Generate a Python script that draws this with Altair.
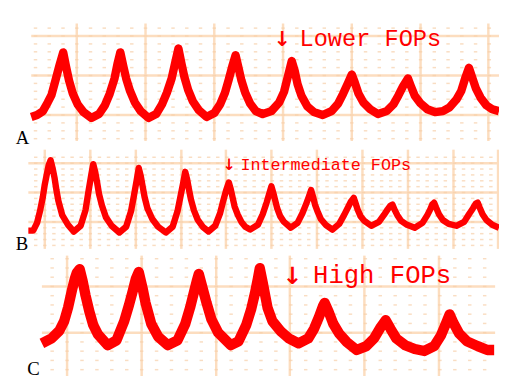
import altair as alt
import pandas as pd
import numpy as np

# ---------------- trace data read from the three scope screens ----------------
# x = sample index from the left edge of each screen, y = level above the lowest major grid line
a_t = [0, 6, 12, 17, 21, 25, 29, 33, 36, 39, 43, 48, 54, 62, 70, 76, 81, 86, 89, 92,
       95, 98, 102, 107, 113, 121, 129, 135, 140, 145, 149, 152, 155, 158, 162, 167, 173, 181,
       189, 195, 200, 204, 208, 211, 214, 217, 221, 226, 232, 239, 248, 256, 261, 265, 269,
       272, 275, 279, 285, 292, 301, 310, 317, 322, 327, 331, 334, 338, 343, 350, 358, 367,
       374, 379, 384, 389, 392, 396, 402, 409, 417, 425, 432, 439, 444, 448, 452, 455, 459,
       464, 470, 476, 483]
a_v = [-2, 0, 4, 13, 21, 36, 51, 65, 50, 36, 22, 11, 3, -3, 1, 10, 22, 38, 53, 65,
       51, 38, 25, 13, 4, -3, 1, 11, 23, 38, 56, 69, 54, 40, 26, 14, 5, -2,
       2, 11, 23, 37, 52, 62, 49, 36, 23, 12, 4, 1, 4, 13, 24, 40, 56,
       46, 32, 20, 9, 3, 0, 4, 12, 22, 33, 42, 34, 22, 13, 6, 1, 4,
       11, 20, 30, 38, 30, 20, 12, 6, 3, 4, 8, 16, 25, 38, 49, 40, 28,
       18, 10, 6, 4]

b_t = [0, 5, 9, 12, 15, 17, 19, 21, 23, 25, 27, 29, 31, 35, 41, 47, 54, 59, 62, 65, 67,
       69, 71, 73, 76, 80, 86, 94, 101, 106, 109, 112, 114, 116, 118, 120, 123, 128, 134, 142,
       149, 154, 157, 160, 162, 164, 166, 168, 171, 175, 180, 186, 193, 198, 201, 204, 207,
       209, 211, 213, 216, 220, 224, 229, 237, 242, 246, 249, 251, 253, 255, 257, 260, 264,
       271, 278, 283, 287, 290, 292, 294, 296, 299, 302, 307, 314, 321, 326, 330, 333, 336,
       338, 340, 343, 347, 354, 362, 367, 371, 374, 376, 378, 381, 385, 391, 399, 407, 412,
       415, 417, 419, 421, 424, 428, 434, 442, 450, 455, 459, 462, 464, 466, 469, 473, 479, 486]
b_v = [-9, -9, -1, 11, 26, 39, 49, 59, 64, 56, 46, 33, 22, 7, -3, -10, -4, 12, 31, 49, 60,
       52, 41, 29, 17, 5, -4, -11, -5, 11, 27, 44, 56, 48, 37, 26, 14, 3, -5, -11,
       -5, 11, 26, 41, 52, 44, 33, 23, 12, 2, -5, -10, -4, 9, 21, 32, 41,
       34, 25, 16, 8, 0, -5, -8, -3, 8, 20, 30, 37, 30, 22, 14, 6, 0,
       -6, -1, 9, 19, 27, 33, 26, 18, 10, 3, -3, -8, -2, 7, 15, 21, 25,
       19, 13, 6, 1, -4, 0, 7, 13, 17, 18, 13, 7, 1, -3, -6, -1, 7,
       13, 18, 20, 15, 8, 2, -2, -4, 0, 8, 14, 19, 20, 15, 8, 2, -3, -6]

c_t = [0, 10, 18, 23, 27, 31, 34, 36, 39, 42, 45, 49, 53, 58, 68, 77, 85, 90, 94, 97, 100,
       104, 107, 113, 120, 130, 140, 148, 153, 157, 160, 162, 166, 170, 175, 182, 195, 203,
       211, 216, 220, 223, 225, 228, 233, 238, 247, 255, 265, 275, 281, 286, 290, 292, 296,
       301, 307, 315, 325, 335, 343, 350, 355, 360, 366, 375, 385, 395, 405, 412, 417, 421,
       425, 431, 439, 450, 460, 467]
c_v = [-11, -6, 2, 12, 26, 44, 56, 62, 66, 54, 39, 22, 8, -2, -13, -8, 12, 29, 44, 56, 63,
       46, 31, 9, -4, -13, -8, 9, 26, 42, 54, 61, 46, 31, 14, 0, -13, -9,
       8, 24, 41, 56, 67, 52, 26, 12, 1, -6, -11, -6, 4, 16, 27, 31, 22,
       9, -1, -10, -18, -14, -6, 6, 13, 4, -6, -13, -17, -19, -14, -3, 9, 19,
       10, -1, -9, -14, -18, -18]

# major grid line positions of each screen
a_xmaj = [47, 118, 189, 260, 331, 402, 472]
a_ymaj = [0, 41, 82]
b_xmaj = [17, 64, 111, 158, 204, 251, 298, 345, 392, 439, 485]
b_ymaj = [0, 30.5, 61]
c_xmaj = [26, 103, 180, 256, 333, 410]
c_ymaj = [0, 48]

# ---------------- layout / style ----------------
W, H = 499, 371          # whole drawing
RW, RH = 507, 379        # reference frame units
GRID = "#FCDDBF"
DOT = "#F7CFA8"
RED = "#FF0000"


def lattice(xmaj, ymaj, xlim, ylim):
    dx = (xmaj[1] - xmaj[0]) / 5.0
    dy = (ymaj[1] - ymaj[0]) / 5.0
    xs = xmaj[0] + dx * np.arange(-20, 200)
    xs = xs[(xs >= xlim[0] + 2) & (xs <= xlim[1] - 2)]
    ys = ymaj[0] + dy * np.arange(-20, 60)
    ys = ys[(ys >= ylim[0] + 2) & (ys <= ylim[1] - 2)]
    X, Y = np.meshgrid(xs, ys)
    return pd.DataFrame({"x": X.ravel(), "y": Y.ravel()})


def make_panel(letter, t, v, left, base, xlim, ylim, xmaj, ymaj, lw,
               letter_xy, letter_size, arrow_xy, note, note_xy, note_size, arrow_size):
    xs = alt.Scale(domain=[-left, RW - left], nice=False, zero=False)
    ys = alt.Scale(domain=[base - RH, base], nice=False, zero=False)

    def X(f):
        return alt.X(f, type="quantitative", scale=xs, axis=None)

    def Y(f):
        return alt.Y(f, type="quantitative", scale=ys, axis=None)

    vl = alt.Chart(pd.DataFrame({"x": xmaj, "y0": [ylim[0]] * len(xmaj),
                                 "y1": [ylim[1]] * len(xmaj)})).mark_rule(
        color=GRID, strokeWidth=2.5).encode(x=X("x"), y=Y("y0"), y2="y1")
    hl = alt.Chart(pd.DataFrame({"y": ymaj, "x0": [xlim[0]] * len(ymaj),
                                 "x1": [xlim[1]] * len(ymaj)})).mark_rule(
        color=GRID, strokeWidth=2.5).encode(y=Y("y"), x=X("x0"), x2="x1")
    dots = alt.Chart(lattice(xmaj, ymaj, xlim, ylim)).mark_tick(
        orient="horizontal", size=3.5, thickness=1.5, color=DOT).encode(x=X("x"), y=Y("y"))
    trace = alt.Chart(pd.DataFrame({"t": t, "v": v})).mark_line(
        color=RED, strokeWidth=lw, strokeJoin="round", strokeCap="butt").encode(
        x=X("t"), y=Y("v"), order="t:Q")
    lab = alt.Chart(pd.DataFrame({"x": [letter_xy[0]], "y": [letter_xy[1]], "s": [letter]})).mark_text(
        align="left", baseline="alphabetic", font="Liberation Serif", fontSize=letter_size,
        color="black").encode(x=X("x"), y=Y("y"), text="s:N")
    arr = alt.Chart(pd.DataFrame({"x": [arrow_xy[0]], "y": [arrow_xy[1]], "s": ["↓"]})).mark_text(
        align="center", baseline="alphabetic", font="DejaVu Sans", fontWeight="bold",
        fontSize=arrow_size, color=RED).encode(x=X("x"), y=Y("y"), text="s:N")
    nt = alt.Chart(pd.DataFrame({"x": [note_xy[0]], "y": [note_xy[1]], "s": [note]})).mark_text(
        align="left", baseline="alphabetic", font="Liberation Mono", fontSize=note_size,
        color=RED).encode(x=X("x"), y=Y("y"), text="s:N")
    return alt.layer(vl, hl, dots, trace, lab, arr, nt)


pa = make_panel("A", a_t, a_v, left=24, base=108, xlim=(0, 483), ylim=(-27, 95),
                xmaj=a_xmaj, ymaj=a_ymaj, lw=8.5, letter_xy=(-16, -30), letter_size=19,
                arrow_xy=(259, 72), note="Lower FOPs", note_xy=(277, 72), note_size=24,
                arrow_size=21)
pb = make_panel("B", b_t, b_v, left=21, base=219, xlim=(0, 486), ylim=(-28, 75),
                xmaj=b_xmaj, ymaj=b_ymaj, lw=6.5, letter_xy=(-13, -29), letter_size=19,
                arrow_xy=(207, 54), note="Intermediate FOPs", note_xy=(219, 54), note_size=17,
                arrow_size=16)
pc = make_panel("C", c_t, c_v, left=35, base=334, xlim=(0, 468), ylim=(-45, 80),
                xmaj=c_xmaj, ymaj=c_ymaj, lw=10.5, letter_xy=(-15, -44), letter_size=19,
                arrow_xy=(259, 51), note="High FOPs", note_xy=(280, 52), note_size=26,
                arrow_size=24)

chart = alt.layer(pa, pb, pc).resolve_scale(x="independent", y="independent").properties(
    width=W, height=H, padding=0, autosize=alt.AutoSizeParams(type="none"),
    background="white").configure_view(stroke=None)

chart.save("out.html", embed_options={"renderer": "svg", "actions": False})
